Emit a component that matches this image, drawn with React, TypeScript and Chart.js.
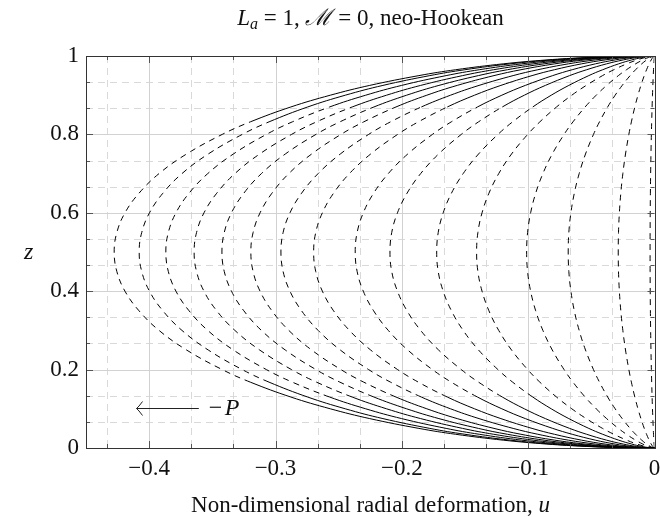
import React, { useEffect, useRef } from "react";
import { Chart, registerables } from "chart.js";

Chart.register(...registerables);

// Leftmost (z = 0.5) deformation of each curve
const amplitudes = [
  0.4277, 0.4079, 0.3868, 0.3644, 0.3424, 0.3195, 0.2957, 0.2698, 0.2369,
  0.2094, 0.1724, 0.1408, 0.1012, 0.0683, 0.0287, 0.0035,
];
// How far each curve's shape leans from the blunt (outer) to the slender (inner) profile
const shapeMix = [0, 0, 0.05, 0.1, 0.15, 0.2, 0.3, 0.4, 0.5, 0.6, 0.7, 0.75, 0.8, 0.8, 0.8, 0.8];
// Height below which (and above 1 - it) a curve is drawn solid; 0 = dashed throughout
const solidEnds = [
  0.168, 0.168, 0.167, 0.165, 0.162, 0.158, 0.154, 0.15, 0.145, 0.14, 0.13, 0, 0, 0, 0, 0,
];
// Heights of the sampled points (lower half; mirrored for the upper half)
const zGrid = [
  0, 0.001, 0.004, 0.01, 0.02, 0.035, 0.05, 0.075, 0.1, 0.13, 0.168, 0.2, 0.25,
  0.3, 0.35, 0.4, 0.45, 0.5,
];
// Normalised profiles u/umin at those heights: outermost curve and innermost curves
const profileOuter = [
  0, 0.063, 0.126, 0.199, 0.28, 0.368, 0.436, 0.527, 0.6, 0.673, 0.748, 0.8,
  0.866, 0.917, 0.954, 0.98, 0.995, 1,
];
const profileInner = [
  0, 0.009, 0.03, 0.064, 0.115, 0.182, 0.244, 0.336, 0.42, 0.51, 0.61, 0.684,
  0.783, 0.862, 0.923, 0.966, 0.992, 1,
];

const xTicks = [-0.4, -0.3, -0.2, -0.1, 0];
const yTicks = [0, 0.2, 0.4, 0.6, 0.8, 1];
const X_MIN = -0.45;
const X_MAX = 0;

const FONT = "'Liberation Serif', 'DejaVu Serif', serif";

function buildData(a: number, m: number) {
  const pts: { x: number; y: number }[] = [];
  const p = profileOuter.map((v, i) => v * (1 - m) + profileInner[i] * m);
  for (let i = 0; i < zGrid.length; i++) pts.push({ x: -a * p[i], y: zGrid[i] });
  for (let i = zGrid.length - 2; i >= 0; i--) pts.push({ x: -a * p[i], y: 1 - zGrid[i] });
  return pts;
}

function minorValues(ticks: number[], withLeading: boolean) {
  const out: number[] = [];
  const step = ticks[1] - ticks[0];
  if (withLeading) out.push(ticks[0] - step / 3);
  for (let i = 0; i < ticks.length - 1; i++) {
    out.push(ticks[i] + step / 3, ticks[i] + (2 * step) / 3);
  }
  return out;
}

const framePlugin = {
  id: "frame",
  beforeDatasetsDraw(chart: any) {
    const { ctx, chartArea: ca, scales } = chart;
    const xs = scales.x;
    const ys = scales.y;
    ctx.save();
    ctx.lineWidth = 1;
    ctx.strokeStyle = "#d9d9d9";
    ctx.setLineDash([7, 5]);
    for (const v of minorValues(xTicks, true)) {
      const px = Math.round(xs.getPixelForValue(v)) + 0.5;
      ctx.beginPath(); ctx.moveTo(px, ca.top); ctx.lineTo(px, ca.bottom); ctx.stroke();
    }
    for (const v of minorValues(yTicks, false)) {
      const py = Math.round(ys.getPixelForValue(v)) + 0.5;
      ctx.beginPath(); ctx.moveTo(ca.left, py); ctx.lineTo(ca.right, py); ctx.stroke();
    }
    ctx.setLineDash([]);
    ctx.strokeStyle = "#d2d2d2";
    for (const v of xTicks) {
      const px = Math.round(xs.getPixelForValue(v)) + 0.5;
      ctx.beginPath(); ctx.moveTo(px, ca.top); ctx.lineTo(px, ca.bottom); ctx.stroke();
    }
    for (const v of yTicks) {
      const py = Math.round(ys.getPixelForValue(v)) + 0.5;
      ctx.beginPath(); ctx.moveTo(ca.left, py); ctx.lineTo(ca.right, py); ctx.stroke();
    }
    ctx.restore();
  },
  afterDatasetsDraw(chart: any) {
    const { ctx, chartArea: ca, scales } = chart;
    const xs = scales.x;
    const ys = scales.y;
    ctx.save();
    ctx.strokeStyle = "#555";
    ctx.lineWidth = 1;
    ctx.setLineDash([]);
    const line = (x1: number, y1: number, x2: number, y2: number) => {
      ctx.beginPath(); ctx.moveTo(x1, y1); ctx.lineTo(x2, y2); ctx.stroke();
    };
    const xv: [number, number][] = [
      ...xTicks.map((v) => [v, 7] as [number, number]),
      ...minorValues(xTicks, true).map((v) => [v, 4] as [number, number]),
    ];
    for (const [v, l] of xv) {
      const px = Math.round(xs.getPixelForValue(v)) + 0.5;
      line(px, ca.bottom, px, ca.bottom - l);
      line(px, ca.top, px, ca.top + l);
    }
    const yv: [number, number][] = [
      ...yTicks.map((v) => [v, 7] as [number, number]),
      ...minorValues(yTicks, false).map((v) => [v, 4] as [number, number]),
    ];
    for (const [v, l] of yv) {
      const py = Math.round(ys.getPixelForValue(v)) + 0.5;
      line(ca.left, py, ca.left + l, py);
      line(ca.right, py, ca.right - l, py);
    }
    ctx.strokeStyle = "#333";
    ctx.strokeRect(
      Math.round(ca.left) + 0.5,
      Math.round(ca.top) + 0.5,
      Math.round(ca.right) - Math.round(ca.left),
      Math.round(ca.bottom) - Math.round(ca.top)
    );

    // arrow annotation  "<-- -P"
    const ax1 = xs.getPixelForValue(-0.3607);
    const ax0 = xs.getPixelForValue(-0.41);
    const ay = Math.round(ys.getPixelForValue(0.102)) + 0.5;
    ctx.strokeStyle = "#222";
    ctx.lineWidth = 1;
    line(ax1, ay, ax0, ay);
    ctx.beginPath();
    ctx.moveTo(ax0 + 6, ay - 7);
    ctx.quadraticCurveTo(ax0 + 2, ay - 1.5, ax0, ay);
    ctx.quadraticCurveTo(ax0 + 2, ay + 1.5, ax0 + 6, ay + 7);
    ctx.stroke();
    ctx.fillStyle = "#111";
    ctx.textBaseline = "middle";
    ctx.textAlign = "left";
    ctx.font = `24px ${FONT}`;
    const mx = ax1 + 10;
    ctx.fillText("\u2212", mx, ay);
    ctx.font = `italic 24px ${FONT}`;
    ctx.fillText("P", mx + 16, ay);
    ctx.restore();
  },
};

export default function App() {
  const ref = useRef<HTMLCanvasElement | null>(null);
  useEffect(() => {
    if (!ref.current) return;
    const datasets = amplitudes.map((a, i) => {
      const zs = solidEnds[i];
      return {
        data: buildData(a, shapeMix[i]),
        showLine: true,
        borderColor: "#000",
        borderWidth: 1,
        pointRadius: 0,
        tension: 0.4,
        segment: {
          borderDash: (ctx: any) => {
            const y0 = ctx.p0.parsed.y;
            const y1 = ctx.p1.parsed.y;
            const ym = Math.min(y0, y1);
            const yM = Math.max(y0, y1);
            if (zs > 0 && (yM <= zs + 1e-9 || ym >= 1 - zs - 1e-9)) return [];
            return [6, 5];
          },
        },
      };
    });
    const chart = new Chart(ref.current, {
      type: "scatter",
      data: { datasets },
      options: {
        animation: false,
        responsive: false,
        layout: { padding: { left: 0, right: 5.5, top: 56, bottom: 0 } },
        plugins: { legend: { display: false }, tooltip: { enabled: false }, title: { display: false } },
        scales: {
          x: {
            type: "linear",
            min: X_MIN,
            max: X_MAX,
            afterBuildTicks: (s: any) => { s.ticks = xTicks.map((v) => ({ value: v })); },
            afterFit: (s: any) => { s.height = 69; s.paddingLeft = 0; s.paddingRight = 0; },
            grid: { display: false, drawTicks: false },
            border: { display: false },
            ticks: {
              padding: 7,
              color: "#111",
              maxRotation: 0,
              font: { family: FONT, size: 23 },
              callback: (v: any) => (v === 0 ? "0" : "\u2212" + Math.abs(v).toString()),
            },
          },
          y: {
            type: "linear",
            min: 0,
            max: 1,
            afterBuildTicks: (s: any) => { s.ticks = yTicks.map((v) => ({ value: v })); },
            afterFit: (s: any) => { s.width = 86; s.paddingTop = 0; s.paddingBottom = 0; },
            grid: { display: false, drawTicks: false },
            border: { display: false },
            ticks: {
              padding: 7,
              color: "#111",
              font: { family: FONT, size: 23 },
              callback: (v: any) => String(v),
            },
          },
        },
      },
      plugins: [framePlugin],
    });
    return () => chart.destroy();
  }, []);

  return (
    <div style={{ position: "fixed", left: 0, top: 0, width: 660, height: 517, fontFamily: FONT, color: "#111" }}>
      <canvas
        ref={ref}
        width={660}
        height={517}
        style={{ position: "absolute", left: 0, top: 0, width: 660, height: 517 }}
      />
      <div style={{ position: "absolute", left: 86, width: 569, top: 3, textAlign: "center", fontSize: 23, lineHeight: "30px", whiteSpace: "nowrap" }}>
        <i>L</i><sub style={{ fontSize: 16, fontStyle: "italic", verticalAlign: "-4px" }}>a</sub> = 1,{" "}
        <span style={{ fontStyle: "italic" }}>ℳ</span> = 0, neo-Hookean
      </div>
      <div style={{ position: "absolute", left: 24, top: 236, fontSize: 24, fontStyle: "italic", lineHeight: "30px" }}>z</div>
      <div style={{ position: "absolute", left: 86, width: 569, top: 490, textAlign: "center", fontSize: 23, lineHeight: "30px", whiteSpace: "nowrap" }}>
        Non-dimensional radial deformation, <i>u</i>
      </div>
    </div>
  );
}
